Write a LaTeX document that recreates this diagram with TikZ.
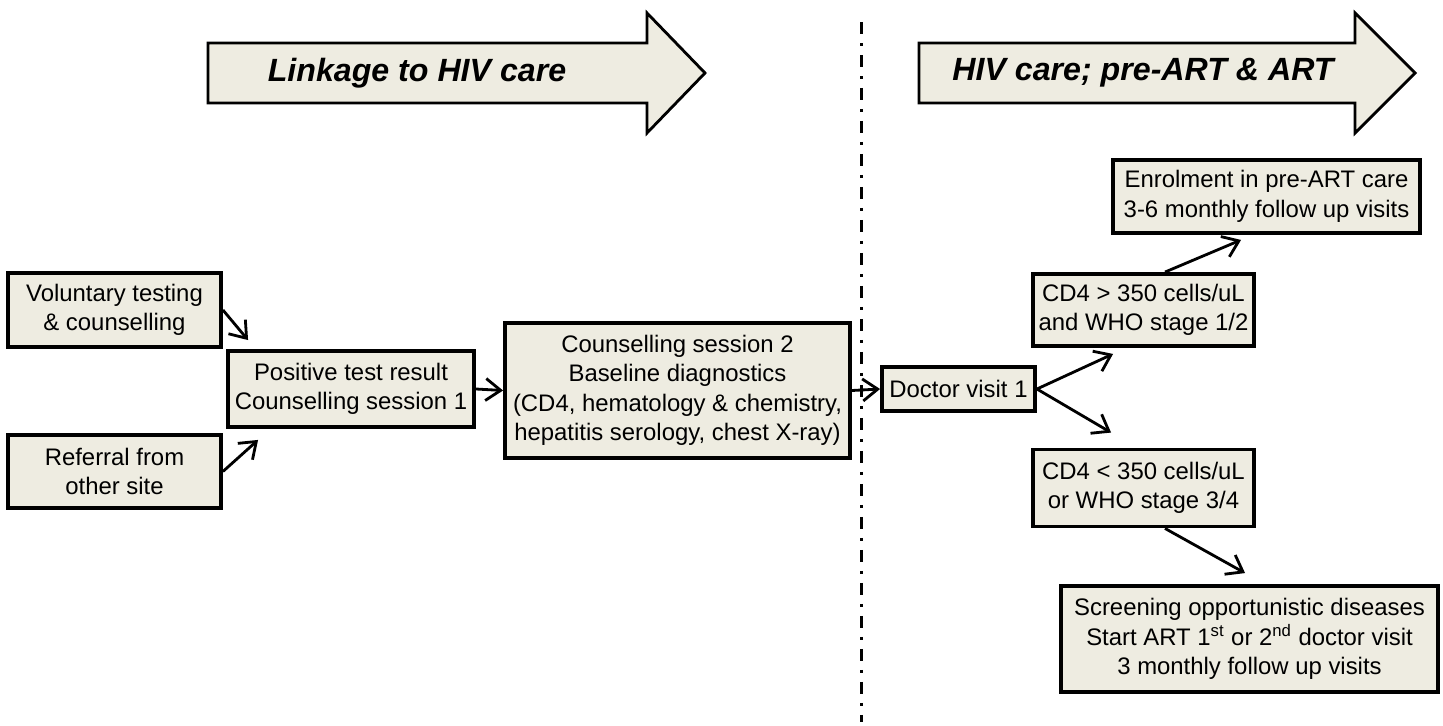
\documentclass[tikz,border=0pt]{standalone}
\usepackage{fontspec}
\setmainfont{Liberation Sans}
\usetikzlibrary{arrows.meta}
\definecolor{boxfill}{RGB}{238,236,225}
\tikzset{
    >={Straight Barb[length=3mm,width=4.4mm]}, % open arrow heads
    box/.style={draw, line width=2.2pt, fill=boxfill, align=center, inner sep=2pt,
        font=\fontsize{13.6pt}{16.8pt}\selectfont}, % the grey boxes
    link/.style={line width=1.6pt}, % the small arrows
    banner/.style={draw, line width=1.6pt, fill=boxfill, line join=miter},
    bannertext/.style={font=\fontsize{18.3pt}{22pt}\selectfont\bfseries\itshape},
}

\begin{document}
\begin{tikzpicture}[]
  \useasboundingbox (0,0) rectangle (28.86,-14.52);

  % the two big arrows at the top
  \draw[banner] (4.16,-0.86) -- (12.94,-0.86) -- (12.94,-0.26) -- (14.10,-1.46)
    -- (12.94,-2.66) -- (12.94,-2.06) -- (4.16,-2.06) -- cycle;
  \node[bannertext] (link) at (8.34,-1.46) {Linkage to HIV care};
  \draw[banner] (18.38,-0.86) -- (27.10,-0.86) -- (27.10,-0.26) -- (28.30,-1.46)
    -- (27.10,-2.66) -- (27.10,-2.06) -- (18.38,-2.06) -- cycle;
  \node[bannertext] (care) at (22.86,-1.46) {HIV care; pre-ART \& ART};

  % dash-dot divider
  \draw[line width=1.7pt, dash pattern=on 0.24cm off 0.18cm on 0.06cm off 0.18cm]
    (17.22,-0.44) -- (17.22,-14.44);

  % linkage boxes
  \node[box, minimum width=4.26cm, minimum height=1.48cm] (vct) at (2.29,-6.20)
    {Voluntary testing\\\& counselling};
  \node[box, minimum width=4.26cm, minimum height=1.46cm] (ref) at (2.29,-9.43)
    {Referral from\\other site};
  \node[box, minimum width=4.92cm, minimum height=1.52cm] (pos) at (7.02,-7.78)
    {Positive test result\\Counselling session 1};
  \node[box, minimum width=6.90cm, minimum height=2.70cm] (cs2) at (13.55,-7.81)
    {Counselling session 2\\Baseline diagnostics\\(CD4, hematology \& chemistry,\\hepatitis serology, chest X-ray)};

  % care boxes
  \node[box, minimum width=3.06cm, minimum height=0.88cm] (doc) at (19.17,-7.78)
    {Doctor visit 1};
  \node[box, minimum width=4.42cm, minimum height=1.44cm] (high) at (22.87,-6.20)
    {CD4 > 350 cells/uL\\and WHO stage 1/2};
  \node[box, minimum width=4.42cm, minimum height=1.54cm] (low) at (22.87,-9.76)
    {CD4 < 350 cells/uL\\or WHO stage 3/4};
  \node[box, minimum width=6.14cm, minimum height=1.46cm] (preart) at (25.33,-3.93)
    {Enrolment in pre-ART care\\3-6 monthly follow up visits};
  \node[box, minimum width=7.54cm, minimum height=2.12cm] (art) at (24.99,-12.78)
    {Screening opportunistic diseases\\Start ART 1\textsuperscript{st} or 2\textsuperscript{nd} doctor visit\\3 monthly follow up visits};

  \path[->, link]
    (vct.east) edge ([xshift=0.44cm,yshift=0.18cm]pos.north west)
    (ref.east) edge ([xshift=0.64cm,yshift=-0.22cm]pos.south west)
    (pos.east) edge (cs2.west)
    (cs2.east) edge (doc.west)
    (doc.east) edge ([xshift=1.64cm,yshift=-0.12cm]high.south west)
    (doc.east) edge ([xshift=1.60cm,yshift=0.30cm]low.north west)
    ([xshift=0.43cm]high.north) edge ([xshift=2.60cm,yshift=-0.10cm]preart.south west)
    ([xshift=0.43cm]low.south) edge ([xshift=3.72cm,yshift=0.22cm]art.north west);
\end{tikzpicture}
\end{document}
